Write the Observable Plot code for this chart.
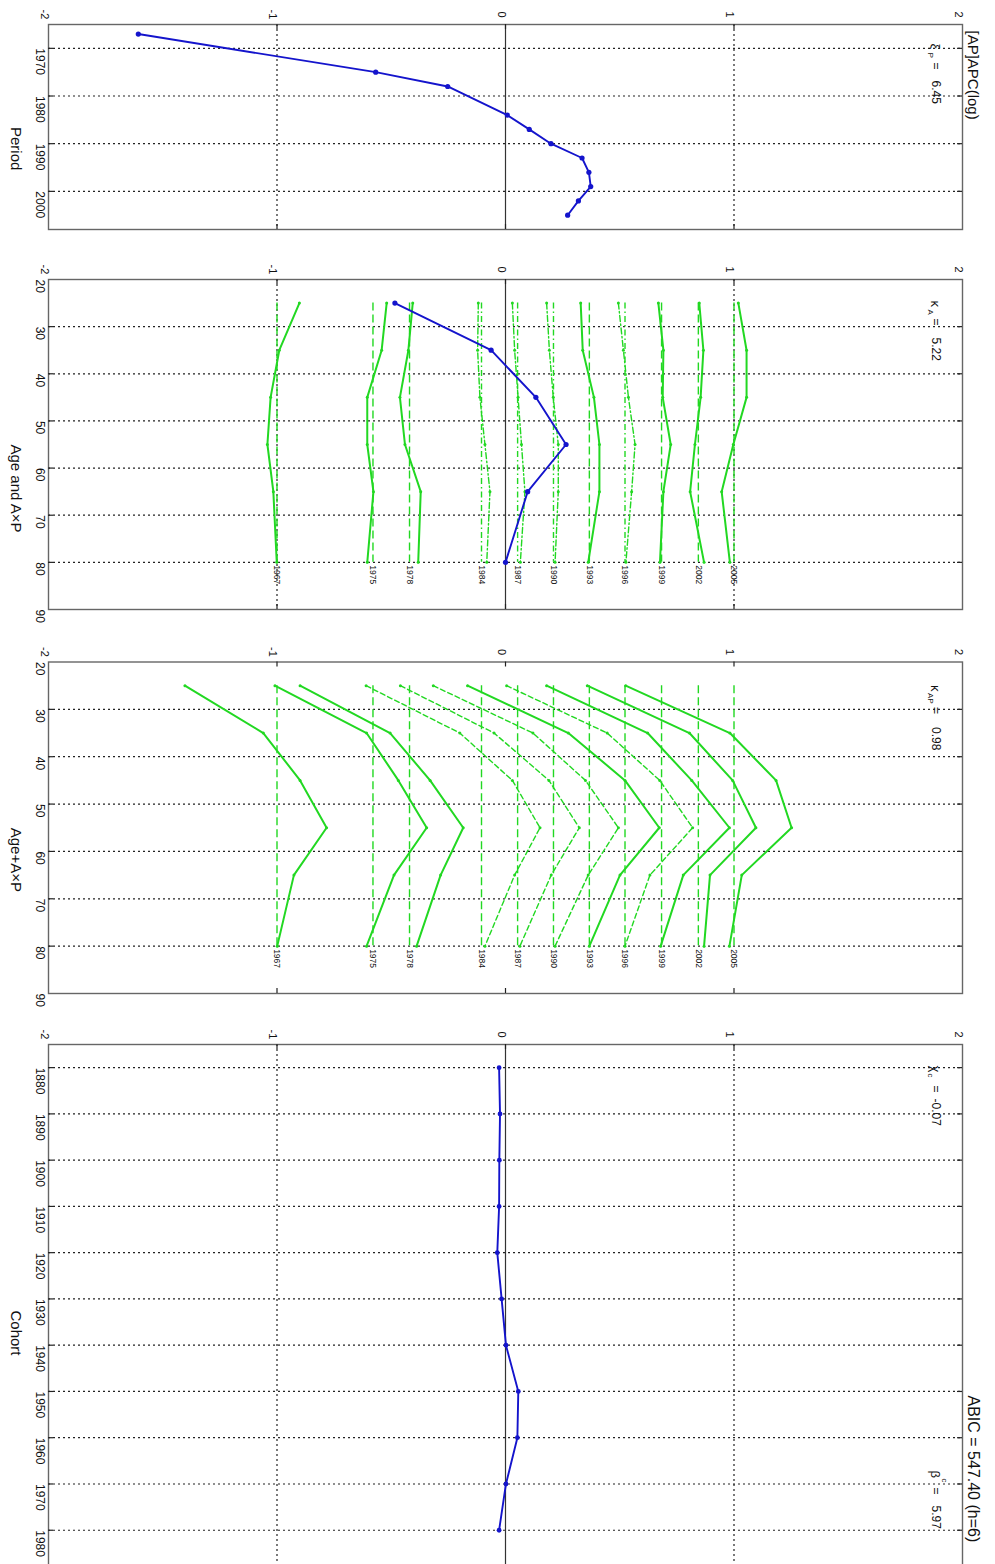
<!DOCTYPE html>
<html>
<head>
<meta charset="utf-8">
<script src="https://cdn.jsdelivr.net/npm/d3@7"></script>
<script src="https://cdn.jsdelivr.net/npm/@observablehq/plot@0.6"></script>
<style>
html, body { margin: 0; padding: 0; background: #fff; overflow: hidden; width: 995px; height: 1564px; }
#root { position: relative; width: 995px; height: 1564px; overflow: hidden; }
#root svg { position: absolute; left: 0; }
</style>
</head>
<body>
<div id="root"></div>
<script>
// ---------- data ----------
const valueTicks = [-2, -1, 0, 1, 2];

const periodYears  = [1967, 1975, 1978, 1984, 1987, 1990, 1993, 1996, 1999, 2002, 2005];
const periodEffect = [-1.607, -0.568, -0.253, 0.008, 0.104, 0.199, 0.335, 0.365, 0.373, 0.319, 0.272];
const periodTicks  = [1970, 1980, 1990, 2000];

const ages       = [25, 35, 45, 55, 65, 80];
const ageEffect  = [-0.484, -0.063, 0.133, 0.265, 0.097, 0.0];
const ageTicks   = [20, 30, 40, 50, 60, 70, 80, 90];

// reference offsets drawn for each period in the A x P panels
const periodRef   = [-1.00, -0.58, -0.42, -0.105, 0.053, 0.21, 0.367, 0.523, 0.683, 0.844, 1.00];
const periodStyle = ["solid", "solid", "solid", "dashdot", "dashdot", "dashdot", "solid", "dashdot", "solid", "solid", "solid"];

// Age and A x P panel: interaction curves (one row per period, one value per age)
const axpCurves = [
  [-0.902, -0.990, -1.028, -1.042, -1.016, -1.001],
  [-0.520, -0.542, -0.605, -0.605, -0.578, -0.605],
  [-0.406, -0.425, -0.462, -0.440, -0.371, -0.382],
  [-0.119, -0.122, -0.112, -0.090, -0.068, -0.082],
  [ 0.030,  0.040,  0.055,  0.070,  0.085,  0.065],
  [ 0.180,  0.192,  0.209,  0.231,  0.231,  0.217],
  [ 0.329,  0.338,  0.387,  0.411,  0.411,  0.362],
  [ 0.494,  0.516,  0.538,  0.567,  0.552,  0.527],
  [ 0.669,  0.691,  0.688,  0.723,  0.691,  0.676],
  [ 0.848,  0.866,  0.854,  0.829,  0.808,  0.869],
  [ 1.019,  1.055,  1.055,  0.997,  0.946,  0.982]
];

// Age + A x P panel
const ageAxpCurves = [
  [-1.403, -1.060, -0.899, -0.783, -0.926, -0.999],
  [-1.009, -0.608, -0.469, -0.345, -0.488, -0.608],
  [-0.899, -0.505, -0.330, -0.185, -0.284, -0.389],
  [-0.610, -0.200,  0.030,  0.151,  0.040, -0.090],
  [-0.460, -0.050,  0.190,  0.323,  0.200,  0.063],
  [-0.316,  0.120,  0.350,  0.494,  0.362,  0.217],
  [-0.166,  0.275,  0.523,  0.673,  0.501,  0.367],
  [ 0.005,  0.445,  0.675,  0.819,  0.632,  0.523],
  [ 0.180,  0.622,  0.815,  0.980,  0.778,  0.679],
  [ 0.358,  0.805,  0.994,  1.096,  0.895,  0.869],
  [ 0.526,  0.982,  1.184,  1.252,  1.034,  0.980]
];

const cohorts      = [1880, 1890, 1900, 1910, 1920, 1930, 1940, 1950, 1960, 1970, 1980];
const cohortEffect = [-0.028, -0.024, -0.027, -0.028, -0.036, -0.017, 0.002, 0.056, 0.052, 0.002, -0.028];
const cohortTicks  = [1880, 1890, 1900, 1910, 1920, 1930, 1940, 1950, 1960, 1970, 1980];

// ---------- styling ----------
const BLUE = "#1414cc";
const GREEN = "#22d822";
const FONT = "'Liberation Sans', Arial, Helvetica, sans-serif";
const W = 995, ML = 48, MR = 33;
const root = document.getElementById("root");

const periodData = periodYears.map((y, i) => ({year: y, value: periodEffect[i]}));
const ageData = ages.map((a, i) => ({age: a, value: ageEffect[i]}));
const cohortData = cohorts.map((c, i) => ({cohort: c, value: cohortEffect[i]}));
const refData = periodYears.map((y, i) => ({label: String(y), ref: periodRef[i], style: periodStyle[i]}));
function curveRows(curves) {
  const rows = [];
  curves.forEach((vals, i) => vals.forEach((v, j) => rows.push({period: periodYears[i], style: periodStyle[i], age: ages[j], value: v})));
  return rows;
}
const axpData = curveRows(axpCurves);
const ageAxpData = curveRows(ageAxpCurves);

const fmt = d => (d < 0 ? "-" + Math.abs(d) : String(d));

function lab(t, dx, dy, size, anchor = "top-right") {
  return Plot.text([t], {text: d => d, frameAnchor: anchor, dx, dy, rotate: 90, textAnchor: "start", fontSize: size, fill: "#111"});
}

function panel({top, height, mt, mb, yDomain, yTicks, yLabel, vgrid, marks}) {
  const H = height - mt - mb;
  const innerW = W - ML - MR;
  const inner = yTicks.filter(t => t > yDomain[0] && t < yDomain[1]);
  const svg = Plot.plot({
    width: W, height,
    marginLeft: ML, marginRight: MR, marginTop: mt, marginBottom: mb,
    x: {domain: [-2, 2], axis: null},
    y: {domain: yDomain, reverse: true, axis: null},
    style: {fontFamily: FONT, background: "transparent", overflow: "visible", color: "#111"},
    marks: [
      Plot.ruleY(inner, {y: d => d, stroke: "#222", strokeWidth: 1.2, strokeDasharray: "2,3"}),
      ...(vgrid ? [
        Plot.ruleX([-1, 1], {x: d => d, stroke: "#222", strokeWidth: 1.2, strokeDasharray: "2,3"}),
        Plot.ruleX([0], {x: d => d, stroke: "#333", strokeWidth: 1.2})
      ] : []),
      ...marks,
      Plot.frame({stroke: "#666", strokeWidth: 1.4}),
      Plot.tickX([-1, 0, 1], {x: d => d, insetBottom: H - 5, stroke: "#222", strokeWidth: 1.2}),
      Plot.tickX([-1, 0, 1], {x: d => d, insetTop: H - 5, stroke: "#222", strokeWidth: 1.2}),
      Plot.tickY(inner, {y: d => d, insetRight: innerW - 5, stroke: "#222", strokeWidth: 1.2}),
      Plot.tickY(inner, {y: d => d, insetLeft: innerW - 5, stroke: "#222", strokeWidth: 1.2}),
      Plot.text(valueTicks, {x: d => d, text: fmt, frameAnchor: "top", dy: -10, rotate: 90, fontSize: 11, fill: "#111"}),
      Plot.text(yTicks, {y: d => d, text: d => String(d), frameAnchor: "left", dx: -9, rotate: 90, fontSize: 12, fill: "#111"}),
      Plot.text([yLabel], {text: d => d, frameAnchor: "left", dx: -33, rotate: 90, fontSize: 15, fill: "#111"})
    ]
  });
  svg.style.top = top + "px";
  root.appendChild(svg);
}

function ageMarks(data, refDashSolid, refDashDD, ddDash) {
  const solid = data.filter(d => d.style === "solid");
  const dd = data.filter(d => d.style === "dashdot");
  return [
    Plot.ruleX(refData.filter(d => d.style === "solid"), {x: "ref", y1: 25, y2: 80, stroke: GREEN, strokeWidth: 1.4, strokeDasharray: refDashSolid}),
    Plot.ruleX(refData.filter(d => d.style === "dashdot"), {x: "ref", y1: 25, y2: 80, stroke: GREEN, strokeWidth: 1.4, strokeDasharray: refDashDD}),
    Plot.line(dd, {x: "value", y: "age", z: "period", stroke: GREEN, strokeWidth: 1.4, strokeDasharray: ddDash}),
    Plot.line(solid, {x: "value", y: "age", z: "period", stroke: GREEN, strokeWidth: 2}),
    Plot.dot(data, {x: "value", y: "age", r: 1.5, fill: GREEN}),
    Plot.text(refData, {x: "ref", y: 80, text: "label", dy: 3, rotate: 90, textAnchor: "start", fontSize: 8.5, fill: "#111"})
  ];
}

// ---------- Panel 1: Period ----------
panel({
  top: 0, height: 250, mt: 24, mb: 21,
  yDomain: [1965, 2008], yTicks: periodTicks, yLabel: "Period", vgrid: true,
  marks: [
    Plot.line(periodData, {x: "value", y: "year", stroke: BLUE, strokeWidth: 1.9}),
    Plot.dot(periodData, {x: "value", y: "year", r: 2.6, fill: BLUE}),
    lab("[AP]APC(log)", 16, 6, 15),
    lab("ξ", -22, 19, 13),
    lab("P", -29, 28, 8),
    lab("=", -22, 38, 12),
    lab("6.45", -22, 56, 12)
  ]
});

// ---------- Panel 2: Age and AxP ----------
panel({
  top: 250, height: 380, mt: 29, mb: 21,
  yDomain: [20, 90], yTicks: ageTicks, yLabel: "Age and A×P", vgrid: true,
  marks: [
    ...ageMarks(axpData, "8,4", "6,3,1.5,3", "6,2.5,1.5,2.5"),
    Plot.line(ageData, {x: "value", y: "age", stroke: BLUE, strokeWidth: 1.9}),
    Plot.dot(ageData, {x: "value", y: "age", r: 2.6, fill: BLUE}),
    lab("κ", -22, 21, 13),
    lab("A", -29, 30, 8),
    lab("=", -22, 39, 12),
    lab("5.22", -22, 58, 12)
  ]
});

// ---------- Panel 3: Age + AxP ----------
panel({
  top: 630, height: 385, mt: 31.5, mb: 22,
  yDomain: [20, 90], yTicks: ageTicks, yLabel: "Age+A×P", vgrid: false,
  marks: [
    ...ageMarks(ageAxpData, "8,4", "8,4", "5,3"),
    lab("κ", -22, 23, 13),
    lab("AP", -29, 31, 8),
    lab("=", -22, 45, 12),
    lab("0.98", -22, 65, 12)
  ]
});

// ---------- Panel 4: Cohort ----------
panel({
  top: 1015, height: 575, mt: 29, mb: 14,
  yDomain: [1875, 1990], yTicks: cohortTicks, yLabel: "Cohort", vgrid: true,
  marks: [
    Plot.line(cohortData, {x: "value", y: "cohort", stroke: BLUE, strokeWidth: 1.9}),
    Plot.dot(cohortData, {x: "value", y: "cohort", r: 2.4, fill: BLUE}),
    lab("χ", -22, 21, 13),
    lab("c", -29, 29, 8),
    lab("=", -22, 41, 12),
    lab("-0.07", -22, 54, 12),
    lab("β", -22, 426, 13),
    lab("c", -15, 434, 8),
    lab("=", -22, 443, 12),
    lab("5.97", -22, 461, 12),
    lab("ABIC = 547.40 (h=6)", 17, 351, 16)
  ]
});
</script>
</body>
</html>
